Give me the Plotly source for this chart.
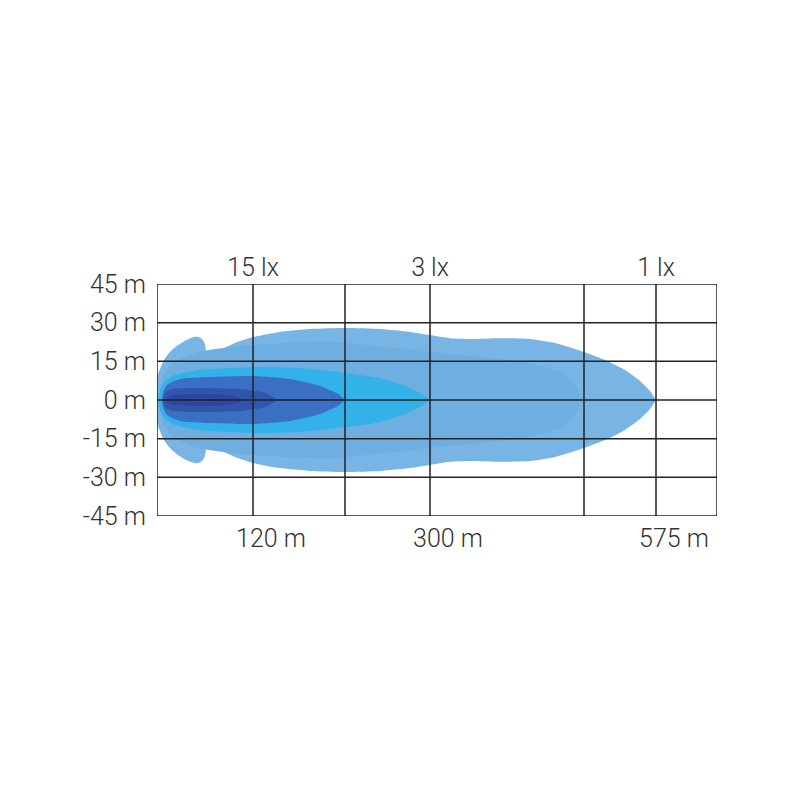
import plotly.graph_objects as go

# ---- data (x: relative distance units along the beam, y: metres) ----
grid_x = [0, 96, 188, 273, 427, 499, 560]
grid_y = [45, 30, 15, 0, -15, -30, -45]
y_tick_text = ["45 m", "30 m", "15 m", "0 m", "-15 m", "-30 m", "-45 m"]
bottom_tick_x = [96, 273, 499]
bottom_tick_text = ["120 m", "300 m", "575 m"]
top_tick_x = [96, 273, 499]
top_tick_text = ["15 lx", "3 lx", "1 lx"]

# contour profiles: distance and upper half-width (mirrored for lower half)
outer_x = [-3, -2, 0, 3, 7, 13, 20, 28, 34, 39, 43, 46, 48, 49, 51, 63, 78, 96, 123, 153, 188,
           223, 253, 273, 293, 313, 343, 373, 398, 427, 448, 468, 483, 493, 499]
outer_h = [0, 5, 9, 12, 15.5, 18.6, 21, 23, 24.1, 24.5, 24.2, 23.2, 21.5, 19, 16.9, 19.4, 22.1,
           24.4, 26.4, 27.5, 27.9, 27.5, 26.4, 25.2, 24.0, 23.7, 24.0, 23.7, 22.1, 18.6, 15.5,
           11.6, 7.4, 3.5, 0]
mid_x = [3, 5, 15, 40, 96, 173, 273, 373, 403, 420, 425]
mid_h = [0, 8, 14, 18.5, 21.3, 22.6, 18.6, 14.4, 10.9, 5, 0]
cyan_x = [1, 3, 8, 18, 43, 96, 143, 188, 223, 248, 263, 273]
cyan_h = [0, 3.9, 7.4, 9.7, 11.6, 12.8, 12.4, 10.5, 8.5, 5.4, 2.7, 0]
blue_x = [5, 6, 10, 23, 53, 96, 133, 163, 181, 188]
blue_h = [0, 2.7, 5.8, 8.1, 8.9, 9.3, 8.1, 5.4, 2.3, 0]
dark_x = [6, 8, 15, 43, 83, 108, 121]
dark_h = [0, 2.7, 4.3, 4.7, 4.3, 2.7, 0]
core_x = [8, 13, 33, 73, 88]
core_h = [0, 1.6, 2.3, 1.9, 0]

layers = [
    (outer_x, outer_h, "#78b5e4"),
    (mid_x, mid_h, "#6eaee0"),
    (cyan_x, cyan_h, "#33b1e9"),
    (blue_x, blue_h, "#3a6fc4"),
    (dark_x, dark_h, "#3055ad"),
    (core_x, core_h, "#2b479f"),
]

fig = go.Figure()
for xs, hs, col in layers:
    px = list(xs) + list(xs[::-1])
    py = list(hs) + [-h for h in hs[::-1]]
    fig.add_trace(go.Scatter(x=px, y=py, fill="toself", fillcolor=col, mode="lines",
                             line=dict(width=0, color=col, shape="spline", smoothing=0.6),
                             hoverinfo="skip", showlegend=False))

# invisible trace on top axis so it renders
fig.add_trace(go.Scatter(x=[0], y=[0], xaxis="x2", mode="markers",
                         marker=dict(opacity=0), hoverinfo="skip", showlegend=False))

line_col = "#222222"
for gx in grid_x:
    fig.add_shape(type="line", xref="x", yref="y", x0=gx, x1=gx, y0=-45, y1=45,
                  line=dict(color=line_col, width=1.5), layer="above")
for gy in grid_y:
    fig.add_shape(type="line", xref="x", yref="y", x0=0, x1=560, y0=gy, y1=gy,
                  line=dict(color=line_col, width=1.5), layer="above")

tfont = dict(family="Roboto", size=25, color="#333333", weight=300)

fig.update_layout(
    width=800, height=800,
    margin=dict(l=149, r=91, t=276, b=292),
    plot_bgcolor="white", paper_bgcolor="white",
    xaxis=dict(range=[0, 560], showgrid=False, zeroline=False, showline=False,
               tickvals=bottom_tick_x, ticktext=bottom_tick_text, tickfont=tfont,
               ticks="", ticklabelshift=18, ticklabelstandoff=5, fixedrange=True),
    xaxis2=dict(range=[0, 560], overlaying="x", side="top", showgrid=False,
                zeroline=False, showline=False, tickvals=top_tick_x,
                ticktext=top_tick_text, tickfont=tfont, ticks="",
                ticklabelstandoff=2, fixedrange=True),
    yaxis=dict(range=[-45, 45], showgrid=False, zeroline=False, showline=False,
               tickvals=grid_y, ticktext=y_tick_text, tickfont=tfont, ticks="",
               ticklabelstandoff=10, fixedrange=True),
)

fig.write_html("out.html")
